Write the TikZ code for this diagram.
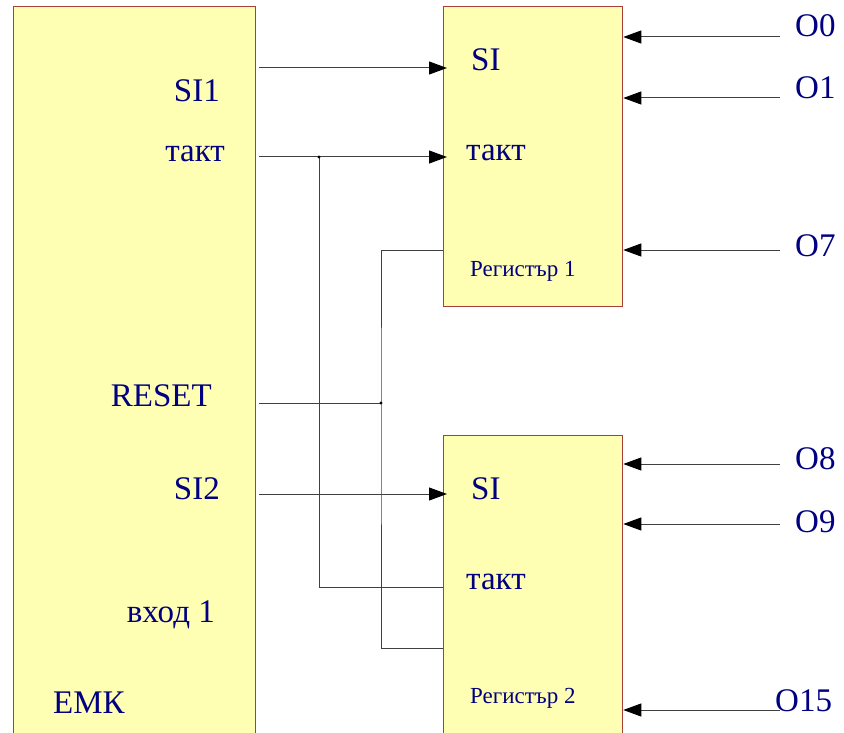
\documentclass[tikz,border=0pt]{standalone}
\usepackage{fontspec}
\setmainfont{Liberation Serif}
\newfontfamily\pinfont{Liberation Serif}
\usetikzlibrary{arrows.meta,positioning,calc}
\definecolor{blockfill}{HTML}{FFFFB3}
\definecolor{blockline}{HTML}{A8403A}
\definecolor{labelblue}{HTML}{000080}
\definecolor{wiregrey}{HTML}{404040}

\begin{document}
\begin{tikzpicture}[x=1pt,y=-1pt,
  block/.style={draw=blockline, fill=blockfill, line width=1.3pt, inner sep=0pt, anchor=north west},
  pin/.style={text=labelblue, font=\pinfont\fontsize{33}{36}\selectfont, inner sep=0pt},
  regname/.style={text=labelblue, font=\pinfont\fontsize{23}{26}\selectfont, inner sep=0pt},
  wire/.style={draw=wiregrey, line width=1pt},
  arr/.style={wire, -{Triangle[length=18pt,width=13pt,color=black]}}]
\useasboundingbox (0,0) rectangle (844,733);

% Blocks
\node[block, minimum width=242pt, minimum height=740pt] (emk) at (13,6) {};
\node[block, minimum width=179pt, minimum height=300pt] (reg1) at (443,6) {};
\node[block, minimum width=179pt, minimum height=310pt] (reg2) at (443,435) {};

% Labels of the EMK block
\node[pin, anchor=base east] (si1) at (220,102) {SI1};
\node[pin, anchor=base east] (clk) at (225,162) {такт};
\node[pin, anchor=base east] (rst) at (212,406) {RESET};
\node[pin, anchor=base east] (si2) at (220,499) {SI2};
\node[pin, anchor=base east] (in1) at (215,622) {вход 1};
\node[pin, anchor=base west] (emkname) at (53,713) {ЕМК};

% Labels of the registers
\node[pin, anchor=base west] (r1si) at (471,71) {SI};
\node[pin, anchor=base west] (r1clk) at (466,161) {такт};
\node[regname, anchor=base west] (r1name) at (470,276) {Регистър 1};
\node[pin, anchor=base west] (r2si) at (471,499) {SI};
\node[pin, anchor=base west] (r2clk) at (466,589) {такт};
\node[regname, anchor=base west] (r2name) at (470,703) {Регистър 2};

% Ports
\coordinate (p-si1) at (259,68);
\coordinate (p-clk) at (259,157);
\coordinate (p-rst) at (259,403);
\coordinate (p-si2) at (259,494);
\coordinate (clkjoin) at (319,157);
\coordinate (rstjoin) at (381,403);
\coordinate (r1rst) at (443,250);
\coordinate (r2clk) at (443,587);
\coordinate (r2rst) at (443,648);

% Wires from EMK to the registers
\draw[arr] (p-si1) -- ($(p-si1 -| reg1.west)+(4,0)$);
\draw[arr] (p-clk) -- ($(p-clk -| reg1.west)+(4,0)$);
\draw[arr] (p-si2) -- ($(p-si2 -| reg2.west)+(4,0)$);
\draw[wire] (clkjoin) |- (r2clk);
\draw[wire] (p-rst) -- (rstjoin);
\draw[wire] (r1rst) -| (rstjoin) |- (r2rst);
\fill[black] (clkjoin) circle (1.6);
\fill[black] (rstjoin) circle (1.6);

% Outputs O0..O15
\foreach \name/\y/\yb/\x/\txt/\reg in {o0/37/37/795/O0/reg1, o1/98/99/795/O1/reg1, o7/250/256/795/O7/reg1,
    o8/464/469/795/O8/reg2, o9/524/532/795/O9/reg2, o15/710/711/775/O15/reg2} {
  \coordinate (\name) at (780,\y);
  \draw[arr] (\name) -- (\name -| \reg.east);
  \node[pin, anchor=base west] (lbl-\name) at (\x,\yb) {\txt};
}
\end{tikzpicture}
\end{document}
